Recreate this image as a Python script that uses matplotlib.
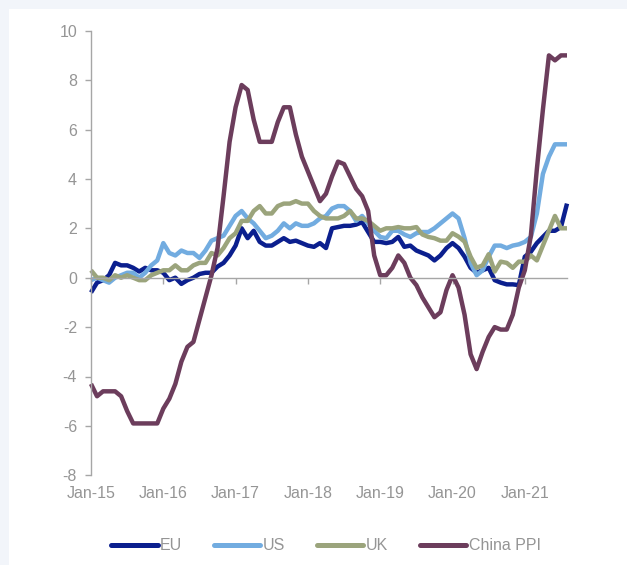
import matplotlib
matplotlib.use("Agg")
import matplotlib.pyplot as plt
from matplotlib.patches import Rectangle
import numpy as np

plt.rcParams['font.family'] = ['Liberation Sans', 'DejaVu Sans']
plt.rcParams['axes.unicode_minus'] = False

tick_labels = ["Jan-15", "Jan-16", "Jan-17", "Jan-18", "Jan-19", "Jan-20", "Jan-21"]
series_names = ["EU", "US", "UK", "China PPI"]

eu = [-0.6, -0.2, -0.1, 0.1, 0.6, 0.5, 0.5, 0.4, 0.25, 0.4, 0.3, 0.3,
      0.2, -0.1, 0.0, -0.25, -0.1, 0.0, 0.15, 0.2, 0.2, 0.45, 0.6, 0.9,
      1.3, 2.0, 1.6, 1.9, 1.45, 1.3, 1.3, 1.45, 1.6, 1.45, 1.5, 1.4,
      1.3, 1.25, 1.4, 1.2, 2.0, 2.05, 2.1, 2.1, 2.15, 2.25, 1.85, 1.45,
      1.45, 1.4, 1.45, 1.65, 1.25, 1.3, 1.1, 1.0, 0.9, 0.7, 0.9, 1.2,
      1.4, 1.2, 0.85, 0.4, 0.2, 0.3, 0.4, -0.1, -0.2, -0.27, -0.27, -0.3,
      0.85, 1.05, 1.4, 1.65, 1.9, 1.9, 2.05, 3.0]

us = [-0.1, 0.0, -0.1, -0.2, 0.0, 0.1, 0.2, 0.2, 0.0, 0.2, 0.5, 0.7,
      1.4, 1.0, 0.9, 1.1, 1.0, 1.0, 0.8, 1.1, 1.5, 1.6, 1.7, 2.1,
      2.5, 2.7, 2.4, 2.2, 1.9, 1.6, 1.7, 1.9, 2.2, 2.0, 2.2, 2.1,
      2.1, 2.2, 2.4, 2.5, 2.8, 2.9, 2.9, 2.7, 2.3, 2.5, 2.2, 1.9,
      1.65, 1.6, 1.9, 1.9, 1.75, 1.65, 1.8, 1.85, 1.85, 2.0, 2.2, 2.4,
      2.6, 2.4, 1.6, 0.6, 0.1, 0.3, 0.85, 1.3, 1.3, 1.2, 1.3, 1.35,
      1.45, 1.65, 2.6, 4.2, 4.9, 5.4, 5.4, 5.4]

uk = [0.3, 0.0, 0.0, -0.1, 0.1, 0.0, 0.1, 0.0, -0.1, -0.1, 0.1, 0.2,
      0.3, 0.3, 0.5, 0.3, 0.3, 0.5, 0.6, 0.6, 1.0, 0.9, 1.2, 1.6,
      1.8, 2.3, 2.3, 2.7, 2.9, 2.6, 2.6, 2.9, 3.0, 3.0, 3.1, 3.0,
      3.0, 2.7, 2.5, 2.4, 2.4, 2.4, 2.5, 2.7, 2.4, 2.4, 2.3, 2.1,
      1.9, 2.0, 2.0, 2.05, 2.0, 2.0, 2.05, 1.75, 1.65, 1.6, 1.5, 1.5,
      1.8, 1.66, 1.46, 0.85, 0.4, 0.5, 0.95, 0.25, 0.65, 0.6, 0.4, 0.65,
      0.65, 0.9, 0.7, 1.3, 1.9, 2.5, 2.0, 2.0]

china_ppi = [-4.3, -4.8, -4.6, -4.6, -4.6, -4.8, -5.4, -5.9, -5.9, -5.9, -5.9, -5.9,
             -5.3, -4.9, -4.3, -3.4, -2.8, -2.6, -1.7, -0.8, 0.1, 1.2, 3.3, 5.5,
             6.9, 7.8, 7.6, 6.4, 5.5, 5.5, 5.5, 6.3, 6.9, 6.9, 5.8, 4.9,
             4.3, 3.7, 3.1, 3.4, 4.1, 4.7, 4.6, 4.1, 3.6, 3.3, 2.7, 0.9,
             0.1, 0.1, 0.4, 0.9, 0.6, 0.0, -0.3, -0.8, -1.2, -1.6, -1.4, -0.5,
             0.1, -0.4, -1.5, -3.1, -3.7, -3.0, -2.4, -2.0, -2.1, -2.1, -1.5, -0.4,
             0.3, 1.7, 4.4, 6.8, 9.0, 8.8, 9.0, 9.0]

colors = ["#0b1f8e", "#72ace0", "#9ba47c", "#6c3d5c"]
text_color = "#959595"
axis_color = "#a6a6a6"

W, H = 627, 565
fig = plt.figure(figsize=(W / 100, H / 100), dpi=100)
fig.patch.set_facecolor("#f2f5fa")
fig.add_artist(Rectangle((9 / W, 0), 1 - 9 / W, 1 - 9 / H, transform=fig.transFigure,
                         facecolor="white", edgecolor="none", zorder=0))

left, right = 91 / W, 567 / W
top_px, bot_px = 30.7, 475.3
ax = fig.add_axes([left, 1 - bot_px / H, right - left, (bot_px - top_px) / H])
ax.set_facecolor("none")

x = np.arange(len(eu))
for vals, c, name in zip([eu, us, uk, china_ppi], colors, series_names):
    ax.plot(x, vals, color=c, lw=3.2, label=name, solid_joinstyle="round",
            solid_capstyle="butt", clip_on=False)

ax.set_xlim(0, len(eu) - 1)
ax.set_ylim(-8, 10)
ax.set_yticks(np.arange(-8, 11, 2))

for s in ["top", "right"]:
    ax.spines[s].set_visible(False)
ax.spines["left"].set_color(axis_color)
ax.spines["left"].set_linewidth(1.0)
ax.spines["bottom"].set_position(("data", 0))
ax.spines["bottom"].set_color(axis_color)
ax.spines["bottom"].set_linewidth(1.0)

xticks = np.arange(0, len(eu), 12)
ax.set_xticks(xticks)
ax.tick_params(axis="x", direction="out", length=4, width=1, color=axis_color,
               labelbottom=False)
ax.tick_params(axis="y", direction="out", length=4, width=1, color=axis_color,
               labelsize=11.5, labelcolor=text_color, pad=6)

sec = ax.secondary_xaxis("bottom")
sec.set_xticks(xticks, tick_labels)
sec.spines["bottom"].set_visible(False)
sec.tick_params(axis="x", length=0, labelsize=11.5, labelcolor=text_color, pad=8)

leg = fig.legend(*ax.get_legend_handles_labels(), loc="center", ncol=4, frameon=False,
                 bbox_to_anchor=(326 / W, 1 - 546 / H), bbox_transform=fig.transFigure,
                 fontsize=11.5, handlelength=2.9, handletextpad=0.15, columnspacing=2.0,
                 labelcolor=text_color)
for h in leg.get_lines():
    h.set_linewidth(3.6)
    h.set_solid_capstyle("round")

fig.savefig("out.png", dpi=100)
